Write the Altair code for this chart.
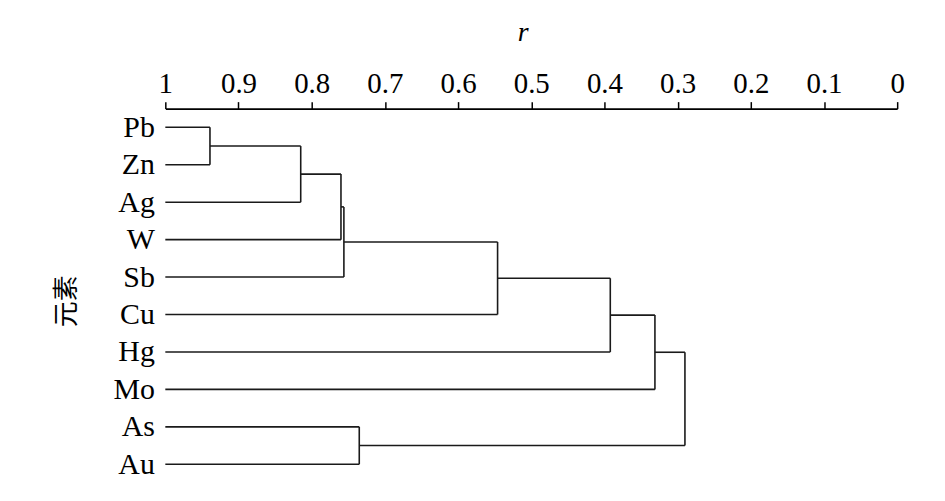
import altair as alt
import pandas as pd

# Leaves (top to bottom)
leaves = ["Pb", "Zn", "Ag", "W", "Sb", "Cu", "Hg", "Mo", "As", "Au"]
# Merges: (left child, right child, r at which they join)
merge_left = ["Pb", "n10", "n11", "n12", "n13", "n14", "n15", "As", "n16"]
merge_right = ["Zn", "Ag", "W", "Sb", "Cu", "Hg", "Mo", "Au", "n17"]
merge_r = [0.939, 0.815, 0.760, 0.756, 0.546, 0.392, 0.331, 0.735, 0.290]
tick_values = [1.0, 0.9, 0.8, 0.7, 0.6, 0.5, 0.4, 0.3, 0.2, 0.1, 0.0]

# Build dendrogram segments from the structure
pos = {name: (1.0, float(i)) for i, name in enumerate(leaves)}  # (r, y-index)
segs = []
for k, (a, b, r) in enumerate(zip(merge_left, merge_right, merge_r)):
    ra, ya = pos[a]
    rb, yb = pos[b]
    segs.append({"x": ra, "x2": r, "y": ya, "y2": ya})
    segs.append({"x": rb, "x2": r, "y": yb, "y2": yb})
    segs.append({"x": r, "x2": r, "y": ya, "y2": yb})
    pos[f"n{10 + k}"] = (r, (ya + yb) / 2)
df = pd.DataFrame(segs)

label_expr = "[" + ",".join(f"'{n}'" for n in leaves) + "][round(datum.value)]"

chart = alt.Chart(df).mark_rule(color="#1a1a1a", strokeWidth=1.6).encode(
    x=alt.X("x:Q",
            scale=alt.Scale(domain=[0, 1], reverse=True, nice=False, zero=False),
            axis=alt.Axis(orient="top", values=tick_values, format=".1~f",
                          title="r", titleFontStyle="italic", titleFontWeight="normal",
                          titleFont="Liberation Serif", titleFontSize=28,
                          titleColor="black",
                          titleX=359, titleY=-68, titleAlign="center",
                          titleBaseline="alphabetic",
                          labelFont="Liberation Serif", labelFontSize=29,
                          labelColor="black", labelPadding=3,
                          tickSize=7, tickColor="black", tickWidth=1.5,
                          domain=True, domainColor="black", domainWidth=1.8,
                          domainOpacity=1, grid=False,
                          labelFlush=False)),
    x2="x2:Q",
    y=alt.Y("y:Q",
            scale=alt.Scale(domain=[-0.5, 9.5], reverse=True, nice=False, zero=False),
            axis=alt.Axis(values=list(range(len(leaves))), labelExpr=label_expr,
                          title="元素", titleFont="Noto Sans CJK SC", titleFontSize=26,
                          titleFontWeight="normal", titleColor="black",
                          titleAngle=-90, titleX=-99, titleY=193,
                          titleAlign="center", titleBaseline="middle",
                          labelFont="Liberation Serif", labelFontSize=30,
                          labelColor="black", labelPadding=11,
                          ticks=False, domain=False, grid=False)),
    y2="y2:Q",
).properties(
    width=735, height=376,
    background="white",
    autosize=alt.AutoSizeParams(type="none"),
    padding={"left": 158, "top": 100, "right": 40, "bottom": 5},
).configure_view(stroke=None)

chart.save("out.html", embed_options={"renderer": "svg", "actions": False})
